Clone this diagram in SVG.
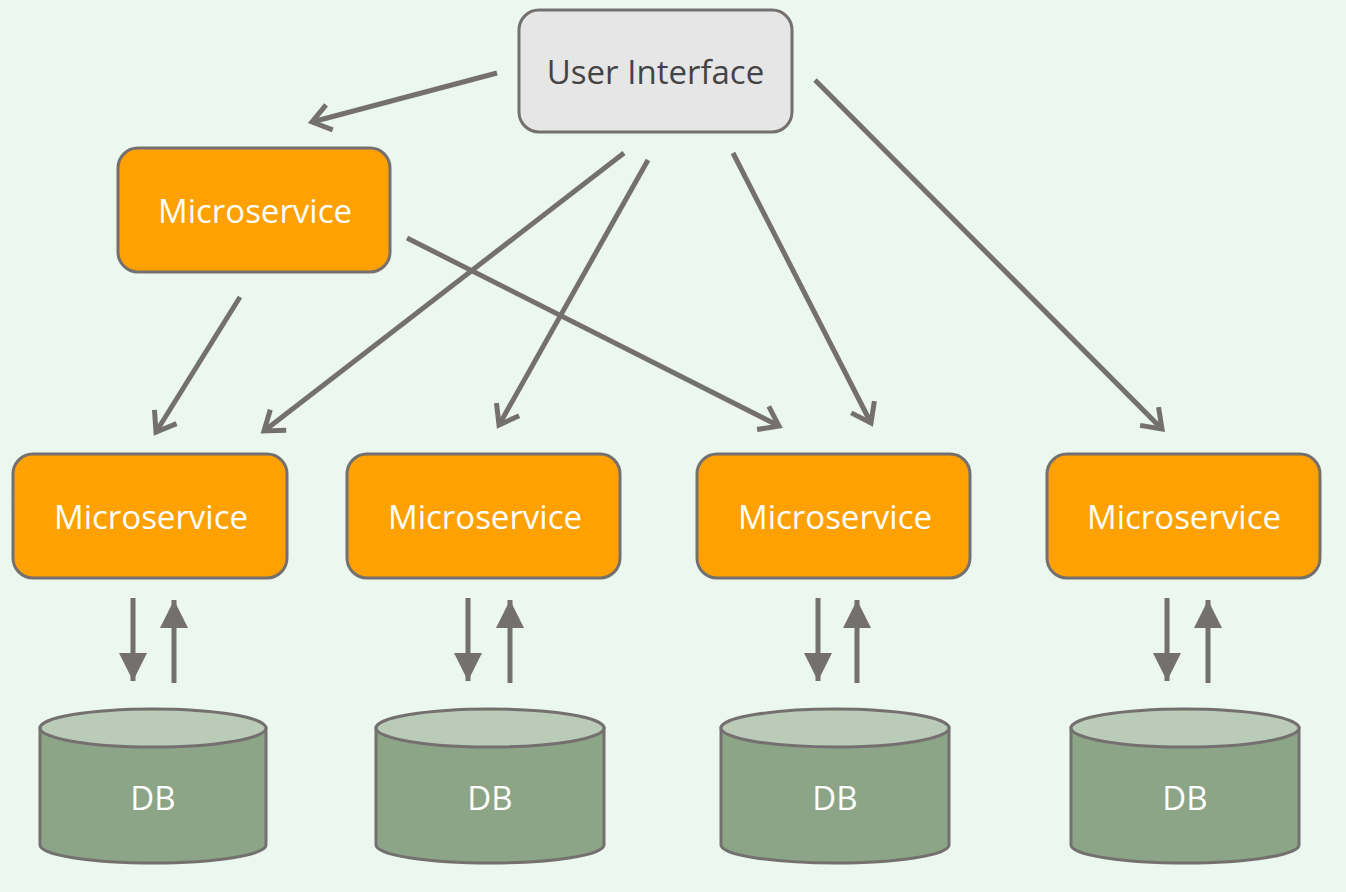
<svg xmlns="http://www.w3.org/2000/svg" width="1346" height="892" viewBox="0 0 1346 892">
  <style>
    .ms rect { fill: #FFA100; stroke: #757070; stroke-width: 3; }
    .ui rect { fill: #E6E6E6; stroke: #757070; stroke-width: 3; }
    .lbl { font-family: "Open Sans", "Noto Sans", sans-serif; font-size: 33px; text-anchor: middle; dominant-baseline: central; }
    .ms text, .db text { fill: #FFFFFF; }
    .ui text { fill: #444444; }
    .db .body { fill: #8CA586; stroke: #757070; stroke-width: 3; }
    .db .top { fill: #BACBB8; stroke: #757070; stroke-width: 3; }
    .link { stroke: #757070; stroke-width: 5; fill: none; marker-end: url(#open); }
    .flow { stroke: #757070; stroke-width: 5; fill: none; marker-end: url(#solid); }
  </style>
  <defs>
    <marker id="open" viewBox="0 0 30 30" refX="24" refY="15" markerWidth="30" markerHeight="30" orient="auto" markerUnits="userSpaceOnUse">
      <path d="M6,2 L24,15 L6,28" fill="none" stroke="#757070" stroke-width="5" stroke-linejoin="miter" stroke-linecap="butt"/>
    </marker>
    <marker id="solid" viewBox="0 0 28 28" refX="28" refY="14" markerWidth="28" markerHeight="28" orient="auto" markerUnits="userSpaceOnUse">
      <path d="M0,0 L28,14 L0,28 Z" fill="#757070"/>
    </marker>
  </defs>

  <rect width="1346" height="892" fill="#ECF8EF"/>

  <g id="connectors">
    <line class="link" x1="497" y1="73" x2="312" y2="122"/>
    <line class="link" x1="624" y1="153" x2="264" y2="431"/>
    <line class="link" x1="648" y1="160" x2="499" y2="425"/>
    <line class="link" x1="733" y1="153" x2="871" y2="423"/>
    <line class="link" x1="815" y1="80" x2="1162" y2="429"/>
    <line class="link" x1="240" y1="297" x2="156" y2="432"/>
    <line class="link" x1="407" y1="238" x2="779" y2="426"/>

    <line class="flow" x1="133" y1="598" x2="133" y2="681"/>
    <line class="flow" x1="174" y1="683" x2="174" y2="600"/>
    <line class="flow" x1="468" y1="598" x2="468" y2="681"/>
    <line class="flow" x1="510" y1="683" x2="510" y2="600"/>
    <line class="flow" x1="818" y1="598" x2="818" y2="681"/>
    <line class="flow" x1="857" y1="683" x2="857" y2="600"/>
    <line class="flow" x1="1167" y1="598" x2="1167" y2="681"/>
    <line class="flow" x1="1208" y1="683" x2="1208" y2="600"/>
  </g>

  <g id="user-interface" class="ui">
    <rect x="519" y="10" width="273" height="122" rx="20"/>
    <text class="lbl" x="655.5" y="71">User Interface</text>
  </g>

  <g id="ms-top" class="ms">
    <rect x="118" y="148" width="272" height="124" rx="20"/>
    <text class="lbl" x="255" y="210">Microservice</text>
  </g>

  <g id="ms-1" class="ms">
    <rect x="13" y="454" width="274" height="124" rx="20"/>
    <text class="lbl" x="151" y="516">Microservice</text>
  </g>
  <g id="ms-2" class="ms">
    <rect x="347" y="454" width="273" height="124" rx="20"/>
    <text class="lbl" x="485" y="516">Microservice</text>
  </g>
  <g id="ms-3" class="ms">
    <rect x="697" y="454" width="273" height="124" rx="20"/>
    <text class="lbl" x="835" y="516">Microservice</text>
  </g>
  <g id="ms-4" class="ms">
    <rect x="1047" y="454" width="273" height="124" rx="20"/>
    <text class="lbl" x="1184" y="516">Microservice</text>
  </g>

  <g id="db-1" class="db">
    <path class="body" d="M40,728 L40,845 A113,18 0 0 0 266,845 L266,728 Z"/>
    <ellipse class="top" cx="153" cy="728" rx="113" ry="19"/>
    <text class="lbl" x="153" y="797">DB</text>
  </g>
  <g id="db-2" class="db">
    <path class="body" d="M376,728 L376,845 A114,18 0 0 0 604,845 L604,728 Z"/>
    <ellipse class="top" cx="490" cy="728" rx="114" ry="19"/>
    <text class="lbl" x="490" y="797">DB</text>
  </g>
  <g id="db-3" class="db">
    <path class="body" d="M721,728 L721,845 A114,18 0 0 0 949,845 L949,728 Z"/>
    <ellipse class="top" cx="835" cy="728" rx="114" ry="19"/>
    <text class="lbl" x="835" y="797">DB</text>
  </g>
  <g id="db-4" class="db">
    <path class="body" d="M1071,728 L1071,845 A114,18 0 0 0 1299,845 L1299,728 Z"/>
    <ellipse class="top" cx="1185" cy="728" rx="114" ry="19"/>
    <text class="lbl" x="1185" y="797">DB</text>
  </g>
</svg>
